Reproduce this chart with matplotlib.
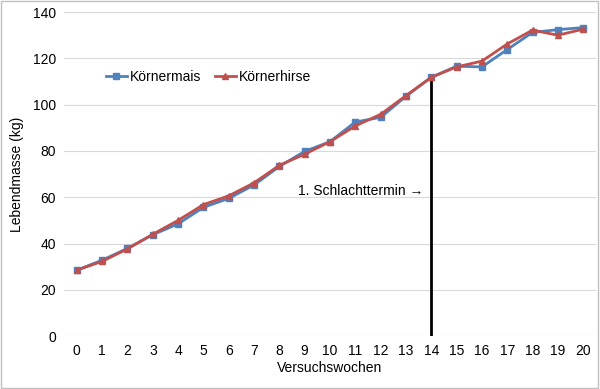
import matplotlib
matplotlib.use("Agg")
import matplotlib.pyplot as plt
from matplotlib.patches import Rectangle

plt.rcParams['font.family'] = ['Liberation Sans', 'DejaVu Sans']

# Data
wochen = list(range(21))
koernermais = [28.5, 32.8, 37.9, 43.8, 48.5, 55.6, 59.5, 65.3, 73.3, 79.8, 84.0,
               92.5, 94.5, 103.6, 111.8, 116.6, 116.3, 123.8, 131.2, 132.4, 133.3]
koernerhirse = [28.5, 32.3, 37.7, 44.0, 50.0, 56.8, 60.6, 66.2, 73.8, 78.6, 84.0,
                90.8, 95.8, 103.9, 111.8, 116.3, 118.8, 126.2, 132.2, 130.0, 132.6]
schlachtwoche = 14
schlacht_label = "1. Schlachttermin \u2192"

blue = "#4F81BD"
red = "#C0504D"

fig = plt.figure(figsize=(6, 3.89), dpi=100)
ax = fig.add_axes([0.107, 0.136, 0.886, 0.833])

ax.plot(wochen, koernermais, color=blue, lw=2, marker="s", ms=4, label="Körnermais")
ax.plot(wochen, koernerhirse, color=red, lw=2, marker="^", ms=5, label="Körnerhirse")

# Schlachttermin line up to the data point
ax.plot([schlachtwoche, schlachtwoche], [0, koernermais[schlachtwoche]], color="black", lw=2, zorder=1)
ax.text(schlachtwoche - 0.3, 62.5, schlacht_label, ha="right", va="center", fontsize=10)

ax.set_xlim(-0.5, 20.5)
ax.set_ylim(0, 140)
ax.set_xticks(wochen)
ax.set_yticks(range(0, 141, 20))
ax.tick_params(length=0, labelsize=10, pad=6)
ax.grid(axis="y", color="#d9d9d9", lw=0.8)
ax.set_axisbelow(True)
for s in ax.spines.values():
    s.set_visible(False)

ax.set_xlabel("Versuchswochen", fontsize=10, labelpad=2)
ax.set_ylabel("Lebendmasse (kg)", fontsize=10, labelpad=6)

ax.legend(loc="upper left", bbox_to_anchor=(0.055, 0.86), ncol=2, frameon=False,
          fontsize=10, handlelength=1.5, handletextpad=0.2, columnspacing=1.0)

fig.patches.append(Rectangle((0.002, 0.003), 0.995, 0.994, transform=fig.transFigure,
                             fill=False, edgecolor="#bfbfbf", lw=1))

fig.savefig("out.png", dpi=100)
